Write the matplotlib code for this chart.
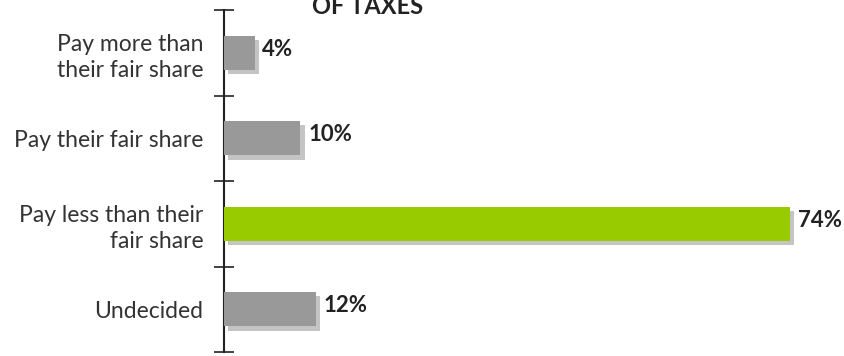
import matplotlib
matplotlib.use("Agg")
import matplotlib.pyplot as plt
import matplotlib.patheffects as pe

categories = ["Pay more than\ntheir fair share", "Pay their fair share",
              "Pay less than their\nfair share", "Undecided"]
shares = [4, 10, 74, 12]
bar_colors = ["#999999", "#999999", "#99cc00", "#999999"]
title = "OF TAXES"

plt.rcParams["font.family"] = ["Lato", "DejaVu Sans"]

fig = plt.figure(figsize=(8.45, 3.56), dpi=100)
ax = fig.add_axes([224 / 845, 4 / 356, 621 / 845, 342 / 356])

shadow = [pe.SimplePatchShadow(offset=(3, -3), shadow_rgbFace="#c4c4c4", alpha=1.0),
          pe.Normal()]
ypos = list(range(len(categories)))
bars = ax.barh(ypos, shares, height=0.4, color=bar_colors, zorder=3)
for b in bars:
    b.set_path_effects(shadow)

for y, v in zip(ypos, shares):
    ax.text(v + 1.0, y - 0.04, f"{v}%", va="center", ha="left",
            fontsize=16, fontweight="bold", color="#222222", zorder=4)

ax.set_xlim(0, 621 / 7.65)
ax.set_ylim(3.5, -0.5)

# boundary ticks crossing the axis, labels at category centres
ax.set_yticks([-0.5, 0.5, 1.5, 2.5, 3.5])
ax.set_yticklabels([])
ax.tick_params(axis="y", which="major", direction="inout", length=14, width=1.2, color="#222222")
ax.set_yticks(ypos, minor=True)
ax.set_yticklabels(categories, minor=True, fontsize=16.5, color="#333333", linespacing=1.3)
ax.tick_params(axis="y", which="minor", length=0, pad=15)

ax.set_xticks([])
for s in ["top", "right", "bottom"]:
    ax.spines[s].set_visible(False)
ax.spines["left"].set_linewidth(1.5)
ax.spines["left"].set_color("#222222")

fig.text(368 / 845, 1.0 + 5 / 356, title, ha="center", va="top",
         fontsize=17, fontweight="bold", color="#222222")

fig.savefig("out.png", dpi=100)
